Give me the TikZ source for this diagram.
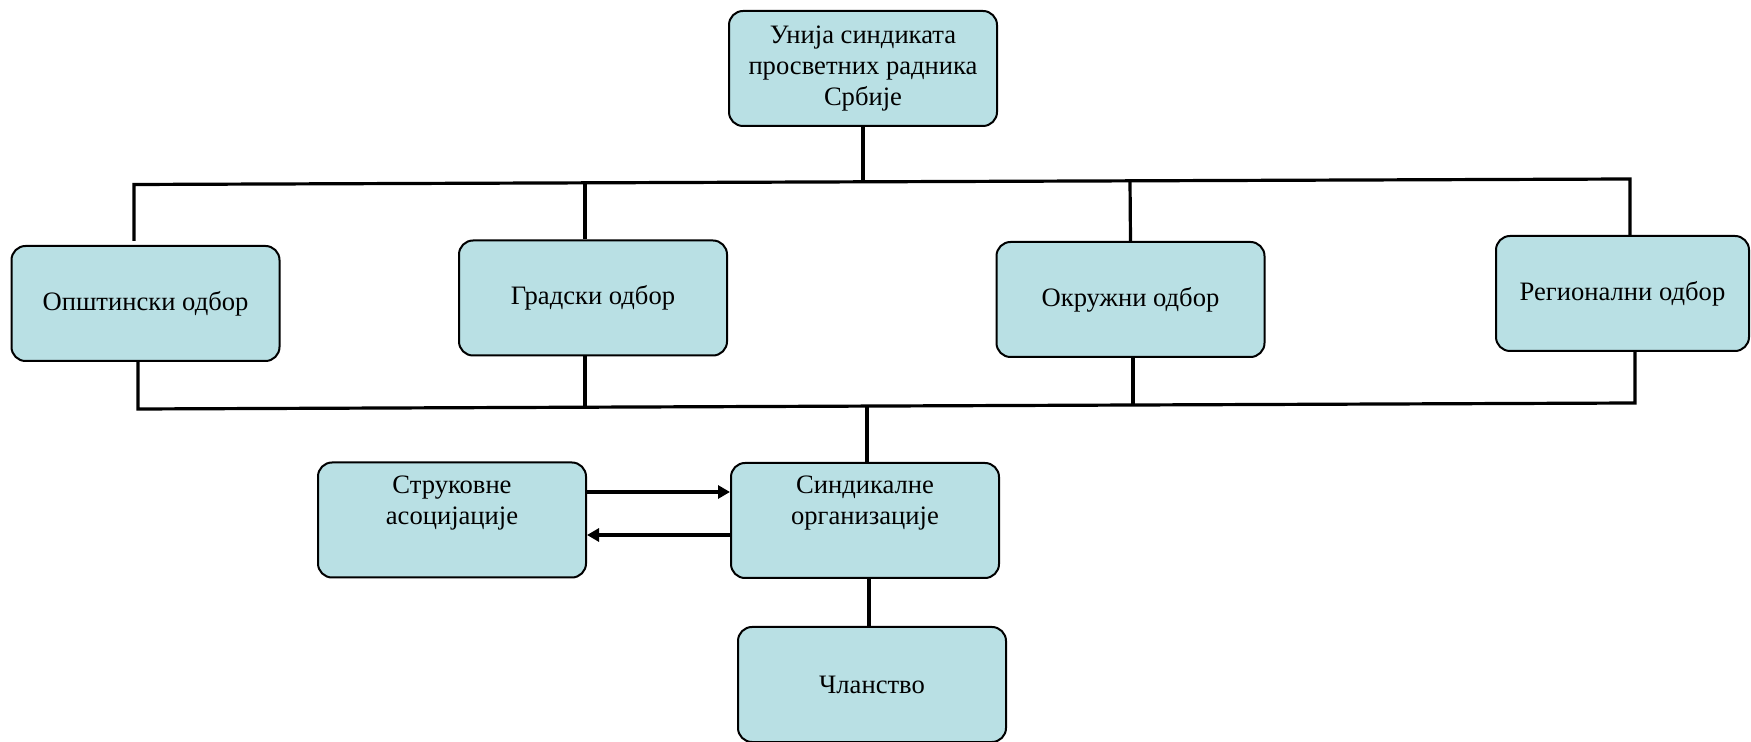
\documentclass[tikz,border=0pt]{standalone}
\usepackage{fontspec}
\setmainfont{Liberation Serif}
\usetikzlibrary{arrows.meta}
\definecolor{boxfill}{RGB}{185,224,228}
\tikzset{
 orgbox/.style={draw=black, line width=1pt, fill=boxfill, rounded corners=7pt,
   minimum width=134pt, minimum height=57.5pt, inner sep=0pt,
   font=\fontsize{13.3}{15.4}\selectfont, align=center},
 lbl/.style={font=\fontsize{13.3}{15.4}\selectfont, align=center, inner sep=0pt},
 bus/.style={line width=1.6pt},
 arr/.style={line width=1.6pt, -{Triangle[length=6pt,width=6.5pt]}}
}
\begin{document}
\begin{tikzpicture}[x=0.5pt,y=-0.5pt]
\useasboundingbox (0,0) rectangle (1751,742);
% boxes
\node[orgbox] (top) at (863,68.5) {Унија синдиката\\просветних радника\\Србије};
\node[orgbox] (ops) at (145.5,303.5) {Општински одбор};
\node[orgbox] (grad) at (593,298) {Градски одбор};
\node[orgbox] (okr) at (1130.5,299.5) {Окружни одбор};
\node[orgbox, minimum width=126.5pt] (reg) at (1622.5,293.5) {Регионални одбор};
\node[orgbox] (str) at (452,520) {};
\node[lbl] (strT) at (452,503) {Струковне\\асоцијације};
\node[orgbox] (sind) at (865,520.5) {};
\node[lbl] (sindT) at (865,503) {Синдикалне\\организације};
\node[orgbox] (clan) at (872,684.5) {Чланство};
% upper bus
\coordinate (bL) at (134,184.5);
\coordinate (bR) at (1630,179);
\coordinate (opsT) at (134,241);
\draw[bus] (opsT) -- (bL) -- (bR) -- (reg.north -| bR);
\draw[bus] (top.south) -- (863,181.8);
\draw[bus] (grad.north -| 585,0) -- (585,182.8);
\draw[bus] (okr.north) -- (1130,180.8);
% lower bus
\coordinate (cL) at (138,409);
\coordinate (cR) at (1635,403);
\draw[bus] (ops.south -| cL) -- (cL) -- (cR) -- (reg.south -| cR);
\draw[bus] (grad.south -| 585,0) -- (585,407.2);
\draw[bus] (okr.south -| 1133,0) -- (1133,405);
\draw[bus] (867,406.1) -- (sind.north -| 867,0);
\draw[bus] (sind.south -| 869,0) -- (clan.north -| 869,0);
% arrows
\draw[arr] (str.east |- 0,492) -- (sind.west |- 0,492);
\draw[arr] (sind.west |- 0,535) -- (str.east |- 0,535);
\end{tikzpicture}
\end{document}
